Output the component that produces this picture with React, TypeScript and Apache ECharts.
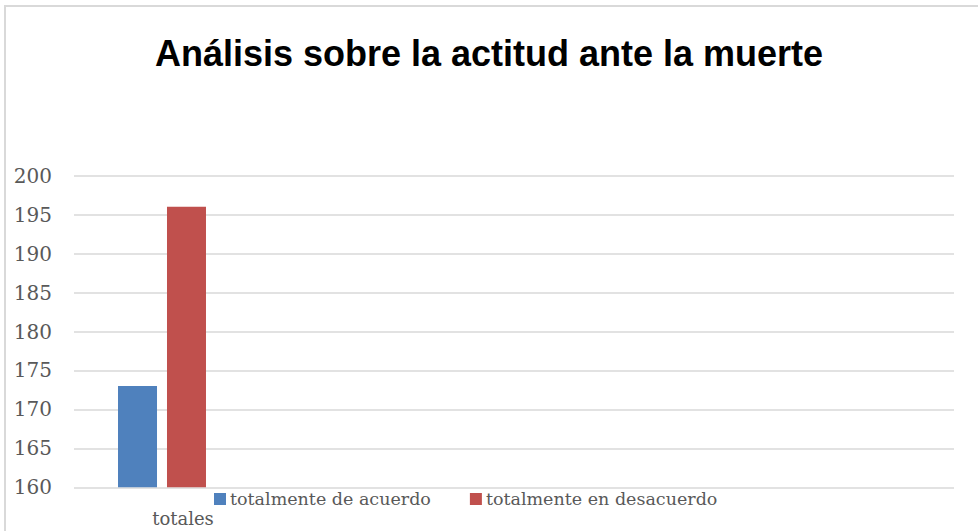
import React, { useEffect, useRef } from "react";
import * as echarts from "echarts";

const titleText = "Análisis sobre la actitud ante la muerte";
const categories = ["totales", "", "", "", ""];
const seriesNames = ["totalmente de acuerdo", "totalmente en desacuerdo"];
const acuerdoValues = [173, null, null, null, null];
const desacuerdoValues = [196, null, null, null, null];
const yMin = 160;
const yMax = 200;
const yStep = 5;

export default function App() {
  const ref = useRef<HTMLDivElement>(null);
  useEffect(() => {
    document.body.style.margin = "0";
    const chart = echarts.init(ref.current!, null, { renderer: "svg" });
    const serif = "DejaVu Serif";
    chart.setOption({
      animation: false,
      backgroundColor: "#ffffff",
      title: {
        text: titleText,
        left: "center",
        top: 35,
        padding: 0,
        textStyle: {
          fontFamily: "Liberation Sans",
          fontWeight: "bold",
          fontSize: 36,
          color: "#000000",
        },
      },
      graphic: [
        {
          type: "rect",
          shape: { x: 5, y: 6, width: 1000, height: 600 },
          style: { fill: "none", stroke: "#d9d9d9", lineWidth: 2 },
          silent: true,
        },
      ],
      legend: {
        left: 214,
        top: 490,
        padding: 0,
        itemWidth: 12,
        itemHeight: 12,
        itemGap: 39,
        icon: "rect",
        textStyle: { fontFamily: serif, fontSize: 17.5, color: "#595959", padding: [0, 0, 0, -1] },
        data: seriesNames,
      },
      grid: { left: 74, right: 24, top: 175.7, bottom: 43.7, containLabel: false },
      xAxis: {
        type: "category",
        data: categories,
        axisLine: { show: false },
        axisTick: { show: false },
        axisLabel: {
          margin: 22,
          fontFamily: serif,
          fontSize: 18,
          color: "#595959",
          padding: [0, 0, 0, 42],
        },
      },
      yAxis: {
        type: "value",
        min: yMin,
        max: yMax,
        interval: yStep,
        axisLine: { show: false },
        axisTick: { show: false },
        splitLine: { lineStyle: { color: "#d9d9d9", width: 1.5 } },
        axisLabel: { margin: 22, fontFamily: serif, fontSize: 20, color: "#595959" },
      },
      series: [
        {
          name: seriesNames[0],
          type: "bar",
          data: acuerdoValues,
          barWidth: 39,
          barGap: "25.6%",
          itemStyle: { color: "#4f81bd" },
        },
        {
          name: seriesNames[1],
          type: "bar",
          data: desacuerdoValues,
          barWidth: 39,
          itemStyle: { color: "#c0504d" },
        },
      ],
    });
    return () => chart.dispose();
  }, []);
  return <div ref={ref} style={{ width: 978, height: 531 }} />;
}
